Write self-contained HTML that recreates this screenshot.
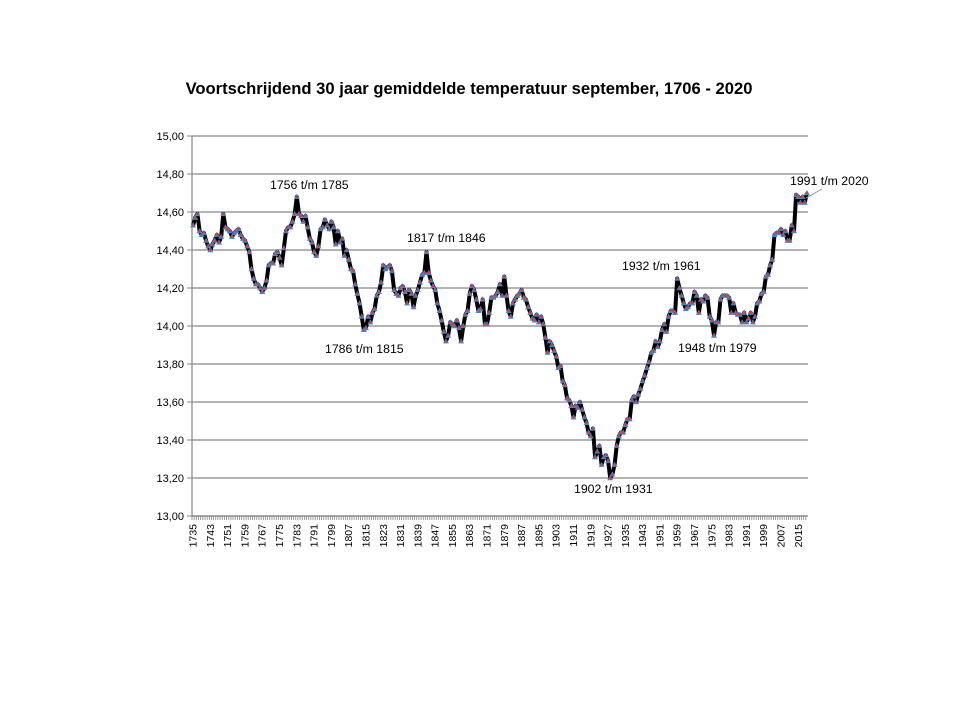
<!DOCTYPE html>
<html><head><meta charset="utf-8"><style>
body{margin:0;background:#fff;}
svg text{font-family:"Liberation Sans",sans-serif;}
</style></head><body>
<svg id="chart" width="960" height="720" viewBox="0 0 960 720" xmlns="http://www.w3.org/2000/svg">
<rect width="960" height="720" fill="#fff"/>
<text x="469" y="94" text-anchor="middle" font-size="16.6" font-weight="bold">Voortschrijdend 30 jaar gemiddelde temperatuur september, 1706 - 2020</text>
<g id="grid"></g><g id="xaxis"></g><g id="series"></g>
<g font-size="12.3" fill="#000">
<text x="270" y="189">1756 t/m  1785</text>
<text x="325" y="353">1786 t/m  1815</text>
<text x="407" y="242">1817 t/m  1846</text>
<text x="574" y="493">1902 t/m  1931</text>
<text x="622" y="270">1932 t/m  1961</text>
<text x="678" y="352">1948 t/m  1979</text>
<text x="790" y="185">1991 t/m  2020</text>
</g>
<line x1="806" y1="198" x2="822" y2="189" stroke="#6a9bd0" stroke-width="1"/>
</svg>
<script>
const startYear = 1735;
const yTicks = [13.0,13.2,13.4,13.6,13.8,14.0,14.2,14.4,14.6,14.8,15.0];
const seg1 = [14.53,14.57,14.59,14.50,14.48,14.49,14.45,14.42,14.40,14.43,14.45,14.48,14.44,14.47,14.59,14.52,14.51,14.50,14.47,14.49,14.50,14.51,14.48,14.46,14.45,14.42,14.39,14.30,14.25,14.22,14.22,14.20,14.18,14.20,14.24,14.32,14.33,14.33,14.38,14.39,14.36,14.32,14.41,14.50,14.52,14.52,14.55,14.59,14.68,14.59,14.58,14.55,14.58,14.52,14.46,14.44,14.39,14.37,14.42,14.51,14.52,14.56,14.53,14.51,14.55,14.52,14.43,14.50,14.44,14.46,14.37,14.40,14.35,14.30];
const seg2 = [14.29,14.22,14.17,14.12,14.05,13.98,13.99,14.05,14.02,14.07,14.09,14.16,14.18,14.23,14.32,14.30,14.31,14.32,14.29,14.19,14.17,14.16,14.20,14.21,14.18,14.12,14.19,14.17,14.10,14.16,14.19,14.23,14.27,14.28,14.39,14.28,14.24,14.21,14.19,14.12,14.08,14.03,13.97,13.92,13.95,14.02,14.01,14.00,14.03,13.99,13.92,14.00,14.06,14.08,14.17,14.21,14.19,14.14,14.08,14.09,14.14,14.01,14.01,14.07,14.15,14.15,14.16,14.18,14.22,14.16,14.26,14.16,14.08,14.05,14.12,14.14,14.16,14.17,14.19,14.15,14.14,14.10,14.07,14.04];
const seg3 = [14.03,14.06,14.02,14.05,14.01,13.94,13.86,13.92,13.90,13.87,13.84,13.78,13.79,13.71,13.69,13.62,13.61,13.58,13.52,13.58,13.57,13.60,13.56,13.52,13.49,13.44,13.42,13.46,13.31,13.34,13.37,13.27,13.31,13.32,13.29,13.20,13.22,13.27,13.37,13.42,13.44,13.44,13.48,13.51,13.51,13.61,13.63,13.60,13.64,13.67,13.71,13.74,13.78,13.81,13.86,13.87,13.92,13.89,13.92,13.98,14.01];
const seg4 = [13.97,14.05,14.08,14.08,14.07,14.25,14.20,14.16,14.12,14.09,14.10,14.12,14.12,14.18,14.16,14.07,14.14,14.13,14.16,14.15,14.05,14.03,13.95,14.02,14.02,14.14,14.16,14.16,14.16,14.15,14.07,14.12,14.07,14.06,14.06,14.02,14.07,14.02,14.04,14.07,14.02,14.05,14.12,14.13,14.17,14.18,14.26,14.27,14.32,14.35,14.48,14.49,14.49,14.51,14.48,14.50,14.45,14.45,14.53,14.50,14.69,14.68,14.65,14.68,14.65,14.70];
const values = seg1.concat(seg2, seg3, seg4);
const years = values.map((v,i)=>startYear+i);

const X0=192, X1=808, Y0=516, Y1=136, YMIN=13, YMAX=15;
const n = values.length;
const step = (X1-X0)/n;
const xs = i => X0 + step*(i+0.5);
const ys = v => Y0 - (v-YMIN)/(YMAX-YMIN)*(Y0-Y1);
const NS="http://www.w3.org/2000/svg";
function mk(tag, attrs, parent){const e=document.createElementNS(NS,tag);for(const k in attrs)e.setAttribute(k,attrs[k]);parent.appendChild(e);return e;}

const grid=document.getElementById('grid');
yTicks.forEach(t=>{
  const g=mk('line',{x1:X0,x2:X1,y1:ys(t),y2:ys(t),stroke:'#868686','stroke-width':1.2},grid);
  
  
  const tk=mk('line',{x1:X0-5,x2:X0,y1:ys(t),y2:ys(t),stroke:'#868686'},grid);
  
  
  const lb=mk('text',{x:X0-8,y:ys(t)+4,'text-anchor':'end','font-size':11},grid);
  lb.textContent=t.toFixed(2).replace('.',',');
  
  
});
const ya=mk('line',{x1:X0,x2:X0,y1:Y1,y2:Y0,stroke:'#868686','stroke-width':1.2},grid);



const xa=document.getElementById('xaxis');
const xl=mk('line',{x1:X0,x2:X1,y1:Y0,y2:Y0,stroke:'#868686','stroke-width':1.2},xa);


years.forEach((yr,i)=>{
  const tk=mk('line',{x1:X0+step*i,x2:X0+step*i,y1:Y0,y2:Y0+4,stroke:'#868686','stroke-width':0.8},xa);
  
  
  if(i%8===0){
    const x=xs(i)+3.5;
    const lb=mk('text',{x:x,y:Y0+8,'text-anchor':'end','font-size':10.5,transform:`rotate(-90 ${x} ${Y0+8})`},xa);
    lb.textContent=yr;
    
    
  }
});

const s=document.getElementById('series');
const pts=values.map((v,i)=>xs(i).toFixed(1)+','+ys(v).toFixed(1)).join(' ');
const pl=mk('polyline',{points:pts,fill:'none',stroke:'#000','stroke-width':4,'stroke-linejoin':'round'},s);


values.forEach((v,i)=>{
  const x=xs(i), y=ys(v);
  const tr=mk('polygon',{points:`${x},${y-3} ${x-3},${y+2.2} ${x+3},${y+2.2}`,fill:'#4f81bd'},s);
  
  
  const d=mk('circle',{cx:x,cy:y,r:1.1,fill:'#e8303a'},s);
  
  
});
</script>
</body></html>
